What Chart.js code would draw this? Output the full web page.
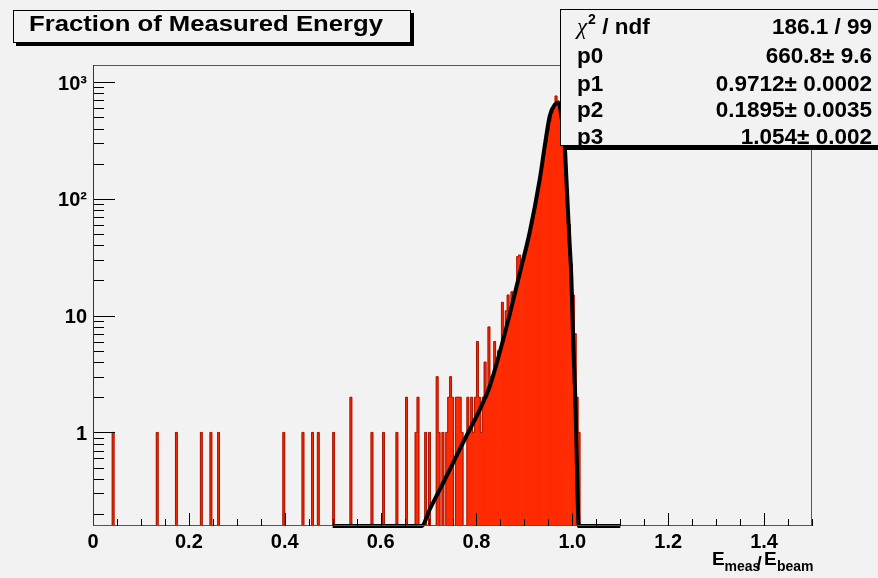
<!DOCTYPE html>
<html>
<head>
<meta charset="utf-8">
<title>Fraction of Measured Energy</title>
<script src="https://cdn.jsdelivr.net/npm/chart.js@4.4.1/dist/chart.umd.min.js"></script>
<style>
  html, body { margin: 0; padding: 0; background: #f2f2f2; }
  #wrap { width: 878px; height: 578px; }
</style>
</head>
<body>
<div id="wrap"><canvas id="energyChart" width="878" height="578"></canvas></div>
<script>
(() => {
  'use strict'

  // Histogram binning: 375 bins over [0, 1.5]
  const BIN_WIDTH = 0.004;
  const N_BINS = 375;

  // Sparse entries below the peak (bin centre, entries)
  const tailX = [0.042, 0.134, 0.174, 0.226, 0.246, 0.262, 0.398, 0.438, 0.458, 0.470,
                 0.502, 0.538, 0.582, 0.606, 0.634, 0.654, 0.674, 0.678, 0.694, 0.702,
                 0.718, 0.722, 0.730, 0.738, 0.742, 0.746, 0.750, 0.758, 0.762, 0.766,
                 0.770];
  const tailCounts = [1, 1, 1, 1, 1, 1, 1, 1, 1, 1,
                      1, 2, 1, 1, 1, 2, 1, 2, 1, 1,
                      3, 1, 1, 1, 2, 3, 2, 2, 2, 2,
                      1];

  // Main peak, one value per bin starting at peakStart
  const peakStart = 0.780;
  const peakCounts = [2, 1, 2, 1, 2, 6, 2, 1, 2, 4,
                      2, 8, 3, 3, 6, 4, 5, 5, 13, 7,
                      11, 15, 10, 16, 14, 17, 32, 33, 26, 30,
                      36, 43, 49, 57, 68, 84, 104, 128, 152, 190,
                      240, 305, 385, 465, 545, 612, 760, 690, 640, 520,
                      400, 250, 120, 60, 28, 15, 7, 2, 1];

  // Fitted function, sampled along the drawn curve (values at the floor are clipped)
  const fitX = [0.500, 0.6854, 0.7027, 0.7236, 0.7444, 0.7653, 0.7861, 0.8070, 0.8278, 0.8486,
                0.8695, 0.8903, 0.9112, 0.9320, 0.9425, 0.9529, 0.9633, 0.9712, 0.9775, 0.9842,
                0.9877, 0.9910, 0.9946, 0.9981, 1.0015, 1.0065, 1.0098, 1.0133, 1.100];
  const fitY = [0.158, 0.158, 0.22, 0.325, 0.48, 0.72, 1.06, 1.57, 2.49, 4.85,
                10.3, 23, 52, 147, 284, 513, 640, 661, 500, 280,
                147, 77, 39.5, 20.5, 6.7, 1.8, 0.48, 0.158, 0.158];

  const xTickValues = [0, 0.2, 0.4, 0.6, 0.8, 1.0, 1.2, 1.4];
  const yTickValues = [1, 10, 100, 1000];
  const yTickLabels = ['1', '10', '10²', '10³'];

  const titleText = 'Fraction of Measured Energy';
  const statNames = ['p0', 'p1', 'p2', 'p3'];
  const statValues = ['660.8± 9.6', '0.9712± 0.0002', '0.1895± 0.0035', '1.054± 0.002'];
  const chi2Value = '186.1 / 99';

  const FONT = '"Liberation Sans", Arial, Helvetica, sans-serif';
  const BG = '#f2f2f2';

  // fill the bin table
  const counts = new Array(N_BINS).fill(0);
  tailX.forEach((x, i) => { counts[Math.floor(x / BIN_WIDTH + 1e-9)] += tailCounts[i]; });
  const first = Math.round(peakStart / BIN_WIDTH);
  peakCounts.forEach((c, i) => { counts[first + i] = c; });
  const binCentres = counts.map((_, i) => (i + 0.5) * BIN_WIDTH);

  // ROOT style step outline on top of the filled bars
  const histOutline = {
    id: 'histOutline',
    afterDatasetDraw(chart, args) {
      if (args.meta.type !== 'bar') return;
      const {ctx, chartArea: area, scales: {x, y}} = chart;
      const floor = area.bottom - 0.5;
      ctx.save();
      ctx.beginPath();
      ctx.rect(area.left, area.top, area.width, area.height);
      ctx.clip();
      ctx.beginPath();
      ctx.moveTo(x.getPixelForValue(0), floor);
      counts.forEach((c, i) => {
        const top = c > 0 ? y.getPixelForValue(c) : floor;
        ctx.lineTo(x.getPixelForValue(i * BIN_WIDTH), top);
        ctx.lineTo(x.getPixelForValue((i + 1) * BIN_WIDTH), top);
      });
      ctx.lineTo(x.getPixelForValue(N_BINS * BIN_WIDTH), floor);
      ctx.strokeStyle = '#a81400';
      ctx.lineWidth = 1;
      ctx.stroke();
      ctx.restore();
    }
  };

  // text stretched horizontally to the wide X11 Helvetica look
  function wideText(ctx, text, x, y, sx) {
    ctx.save();
    ctx.translate(x, y);
    ctx.scale(sx, 1);
    ctx.fillText(text, 0, 0);
    ctx.restore();
  }

  // frame, inward ticks, title box, stats box and axis title
  const decorations = {
    id: 'decorations',
    beforeDraw(chart) {
      const {ctx, width, height} = chart;
      ctx.save();
      ctx.fillStyle = BG;
      ctx.fillRect(0, 0, width, height);
      ctx.restore();
    },
    afterDraw(chart) {
      const {ctx, chartArea: a, scales: {x, y}} = chart;
      ctx.save();

      // frame
      ctx.strokeStyle = '#555';
      ctx.lineWidth = 1;
      ctx.strokeRect(Math.round(a.left) + 0.5, Math.round(a.top) + 0.5,
                     Math.round(a.width) - 1, Math.round(a.height) - 1);

      // x ticks: major every 0.2, minor every 0.05
      ctx.strokeStyle = '#000';
      ctx.beginPath();
      for (let k = 0; k <= 30; k++) {
        const px = Math.round(x.getPixelForValue(k * 0.05)) + 0.5;
        const len = k % 4 === 0 ? 13 : 7;
        ctx.moveTo(px, a.bottom);
        ctx.lineTo(px, a.bottom - len);
      }
      // y ticks: decades plus 2..9 subdivisions
      for (let e = -1; e <= 3; e++) {
        for (let m = 1; m <= 9; m++) {
          const v = m * Math.pow(10, e);
          if (v < y.min || v > y.max) continue;
          const py = Math.round(y.getPixelForValue(v)) + 0.5;
          const len = m === 1 ? 22 : 11;
          ctx.moveTo(a.left, py);
          ctx.lineTo(a.left + len, py);
        }
      }
      ctx.stroke();

      // axis line
      ctx.strokeStyle = '#333';
      ctx.beginPath();
      ctx.moveTo(Math.round(a.left) + 0.5, a.top);
      ctx.lineTo(Math.round(a.left) + 0.5, a.bottom);
      ctx.stroke();

      // title box with shadow
      ctx.fillStyle = '#000';
      ctx.fillRect(16, 13, 398, 33);
      ctx.fillStyle = BG;
      ctx.fillRect(13, 10, 398, 33);
      ctx.strokeStyle = '#000';
      ctx.strokeRect(13.5, 10.5, 397, 32);
      ctx.font = 'bold 22px ' + FONT;
      ctx.fillStyle = '#000';
      ctx.textBaseline = 'alphabetic';
      ctx.textAlign = 'left';
      const tw = ctx.measureText(titleText).width;
      wideText(ctx, titleText, 29, 31, 354 / tw);

      // stats box
      ctx.fillStyle = '#000';
      ctx.fillRect(565, 14, 320, 136);
      ctx.fillStyle = BG;
      ctx.fillRect(560, 9, 325, 137);
      ctx.strokeStyle = '#000';
      ctx.strokeRect(560.5, 9.5, 325, 136);

      ctx.fillStyle = '#000';
      const rowY = [34, 63, 90.5, 117.3, 144];
      ctx.font = 'italic 23px "Liberation Serif", serif';
      ctx.fillText('χ', 577, rowY[0]);
      let cx = 577 + ctx.measureText('χ').width;
      ctx.font = 'bold 14px ' + FONT;
      ctx.fillText('2', cx + 1, rowY[0] - 10);
      cx += 1 + ctx.measureText('2').width;
      ctx.font = 'bold 22.5px ' + FONT;
      ctx.fillText(' / ndf', cx, rowY[0]);
      statNames.forEach((n, i) => ctx.fillText(n, 577, rowY[i + 1]));
      ctx.textAlign = 'right';
      ctx.fillText(chi2Value, 872, rowY[0]);
      statValues.forEach((v, i) => ctx.fillText(v, 872, rowY[i + 1]));

      // x axis title E_meas/E_beam
      ctx.textAlign = 'left';
      const big = 'bold 19px ' + FONT, small = 'bold 14px ' + FONT;
      ctx.font = big;
      ctx.fillText('E', 712, 565);
      ctx.fillText('/', 756.5, 569);
      ctx.fillText('E', 764, 565);
      ctx.font = small;
      ctx.fillText('meas', 724.5, 571);
      ctx.fillText('beam', 777, 571);

      ctx.restore();
    }
  };

  const ctx = document.getElementById('energyChart').getContext('2d');

  new Chart(ctx, {
    type: 'bar',
    data: {
      datasets: [{
        type: 'line',
        label: 'fit',
        data: fitX.map((x, i) => ({x, y: fitY[i]})),
        borderColor: '#000',
        borderWidth: 4,
        pointRadius: 0,
        cubicInterpolationMode: 'monotone',
        clip: false,
        order: 0
      }, {
        type: 'bar',
        label: 'entries',
        data: binCentres.map((x, i) => ({x, y: counts[i] > 0 ? counts[i] : null})),
        backgroundColor: '#ff2a00',
        borderWidth: 0,
        barPercentage: 1,
        categoryPercentage: 1,
        order: 1
      }]
    },
    options: {
      responsive: false,
      animation: false,
      events: [],
      layout: {padding: {left: 0, right: 66, top: 65, bottom: 0}},
      plugins: {legend: {display: false}, tooltip: {enabled: false}, title: {display: false}},
      scales: {
        x: {
          type: 'linear',
          min: 0,
          max: 1.5,
          offset: false,
          grid: {display: false, drawTicks: false, offset: false},
          border: {display: false},
          afterBuildTicks: (s) => { s.ticks = xTickValues.map(v => ({value: v})); },
          afterFit: (s) => { s.height = 52; },
          ticks: {
            color: '#000',
            padding: 4,
            maxRotation: 0,
            autoSkip: false,
            font: {family: FONT, weight: 'bold', size: 20}
          }
        },
        y: {
          type: 'logarithmic',
          min: 0.158,
          max: 1400,
          grid: {display: false, drawTicks: false},
          border: {display: false},
          afterBuildTicks: (s) => { s.ticks = yTickValues.map(v => ({value: v})); },
          afterFit: (s) => { s.width = 93; },
          ticks: {
            color: '#000',
            padding: 6,
            labelOffset: 2,
            autoSkip: false,
            callback: (v) => yTickLabels[yTickValues.indexOf(v)],
            font: {family: FONT, weight: 'bold', size: 20}
          }
        }
      }
    },
    plugins: [histOutline, decorations]
  });
})()
</script>
</body>
</html>
